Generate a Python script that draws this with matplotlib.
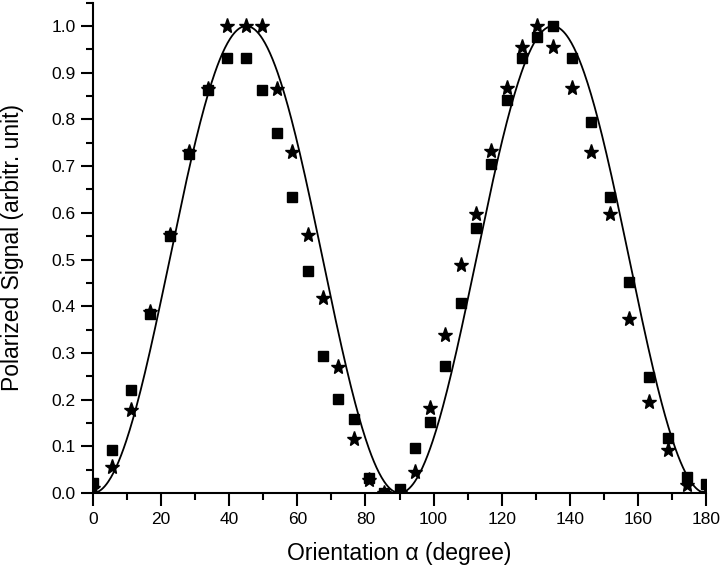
import numpy as np
import matplotlib
matplotlib.use("Agg")
import matplotlib.pyplot as plt
from matplotlib.ticker import MultipleLocator, FormatStrFormatter

plt.rcParams['font.family'] = ['Liberation Sans', 'DejaVu Sans']

angle = [0, 5.625, 11.25, 16.875, 22.5, 28.125, 33.75, 39.375, 45,
         49.5, 54, 58.5, 63, 67.5, 72, 76.5, 81, 85.5, 90,
         94.5, 99, 103.5, 108, 112.5, 117, 121.5, 126, 130.5, 135,
         140.625, 146.25, 151.875, 157.5, 163.125, 168.75, 174.375, 180]

squares = [0.021, 0.092, 0.221, 0.383, 0.55, 0.726, 0.863, 0.931, 0.931,
           0.863, 0.772, 0.634, 0.475, 0.293, 0.201, 0.158, 0.033, 0.0, 0.009,
           0.096, 0.151, 0.272, 0.406, 0.567, 0.704, 0.842, 0.931, 0.977, 1.0,
           0.931, 0.794, 0.634, 0.451, 0.248, 0.117, 0.035, 0.02]

stars = [0.01, 0.056, 0.178, 0.387, 0.553, 0.73, 0.865, 1.0, 1.0,
         1.0, 0.865, 0.731, 0.552, 0.418, 0.270, 0.115, 0.028, 0.0, 0.0,
         0.046, 0.183, 0.338, 0.488, 0.597, 0.732, 0.867, 0.956, 1.0, 0.956,
         0.867, 0.731, 0.597, 0.373, 0.194, 0.092, 0.017, 0.0]

# theoretical curve sin^2(2*alpha)
theta = np.linspace(0, 180, 721)
model = np.sin(np.deg2rad(2 * theta)) ** 2

fig = plt.figure(figsize=(7.2, 5.7), dpi=100)
ax = fig.add_axes([93/720, 77/570, 613/720, 490.3/570])

ax.plot(theta, model, color='black', lw=1.3, zorder=2)
ax.plot(angle, stars, linestyle='none', marker='*', color='black', markersize=11, zorder=3)
ax.plot(angle, squares, linestyle='none', marker='s', color='black', markersize=7.5, zorder=4)

ax.set_xlim(0, 180)
ax.set_ylim(0, 1.05)
ax.xaxis.set_major_locator(MultipleLocator(20))
ax.xaxis.set_minor_locator(MultipleLocator(10))
ax.yaxis.set_major_locator(MultipleLocator(0.1))
ax.yaxis.set_minor_locator(MultipleLocator(0.05))
ax.yaxis.set_major_formatter(FormatStrFormatter('%.1f'))

for s in ['top', 'right']:
    ax.spines[s].set_visible(False)
for s in ['left', 'bottom']:
    ax.spines[s].set_linewidth(1.5)

ax.tick_params(which='major', direction='out', length=9, width=1.5, labelsize=12.5)
ax.tick_params(axis='x', which='major', pad=4.5)
ax.tick_params(which='minor', direction='out', length=5, width=1.5)

ax.set_xlabel('Orientation α (degree)', fontsize=16.5)
ax.set_ylabel('Polarized Signal (arbitr. unit)', fontsize=16.5)
ax.xaxis.set_label_coords(0.5, -0.100)
ax.yaxis.set_label_coords(-0.112, 0.5)

fig.savefig('out.png', dpi=100)
